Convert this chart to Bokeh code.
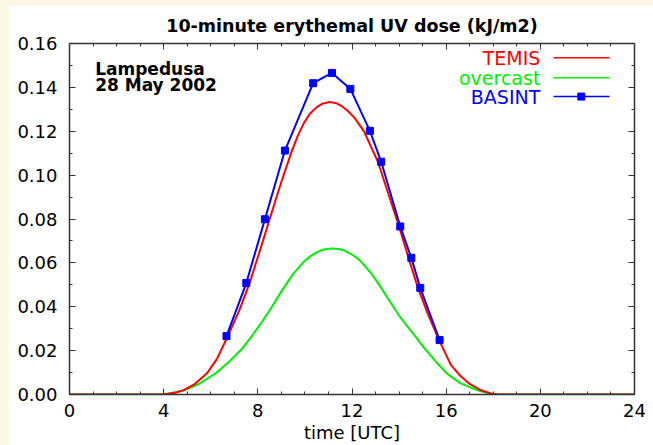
import re
from bokeh.plotting import figure
from bokeh.models import Range1d, LinearAxis, SingleIntervalTicker, Label, PrintfTickFormatter
from bokeh.embed import file_html
from bokeh.resources import INLINE

# ---- data ----
temis_time = [0, 4.0, 4.5, 4.85, 5.3, 5.85, 6.25, 6.7, 7.2, 7.65, 8.1, 8.5, 9.0, 9.45, 9.7,
              9.95, 10.2, 10.5, 10.75, 11.05, 11.35, 11.6, 11.85, 12.1, 12.5, 13.1, 13.55,
              14.0, 14.4, 14.8, 15.25, 15.7, 16.2, 16.6, 17.0, 17.5, 17.9, 18.2, 24]
temis_dose = [0, 0, 0.0008, 0.0020, 0.0046, 0.0098, 0.0160, 0.0260, 0.0380, 0.0508, 0.0660,
              0.0799, 0.0970, 0.1112, 0.1180, 0.1236, 0.1279, 0.1310, 0.1326, 0.1333, 0.1327,
              0.1312, 0.1290, 0.1262, 0.1202, 0.1061, 0.0913, 0.0766, 0.0623, 0.0486, 0.0360,
              0.0248, 0.0135, 0.0085, 0.0048, 0.0018, 0.0005, 0, 0]

overcast_time = [0, 4.0, 4.85, 5.5, 6.25, 6.8, 7.3, 7.7, 8.2, 8.6, 9.0, 9.5, 10.0, 10.25, 10.5,
                 10.8, 11.15, 11.45, 11.7, 12.0, 12.3, 12.8, 13.2, 13.6, 14.05, 14.6, 15.1,
                 15.6, 16.05, 16.6, 17.3, 17.8, 18.2, 24]
overcast_dose = [0, 0, 0.0018, 0.0048, 0.0100, 0.0152, 0.0205, 0.0260, 0.0335, 0.0400, 0.0470,
                 0.0550, 0.0610, 0.0632, 0.0648, 0.0661, 0.0666, 0.0663, 0.0655, 0.0638, 0.0615,
                 0.0555, 0.0493, 0.0425, 0.0352, 0.0278, 0.0208, 0.0145, 0.0094, 0.0052, 0.0020,
                 0.0005, 0, 0]

basint_time = [6.67, 7.51, 8.30, 9.15, 10.35, 11.15, 11.93, 12.76, 13.24, 14.05, 14.52, 14.90, 15.72]
basint_dose = [0.0266, 0.0508, 0.0799, 0.1112, 0.1419, 0.1466, 0.1393, 0.1202, 0.1061, 0.0766,
               0.0623, 0.0486, 0.0248]

series_names = ["TEMIS", "overcast", "BASINT"]
series_colors = ["#FF0000", "#00EE00", "#0000FF"]

FONT = "DejaVu Sans"

p = figure(width=645, height=440, x_range=Range1d(0, 24), y_range=Range1d(0, 0.16),
           output_backend="svg", toolbar_location=None,
           min_border_left=61, min_border_right=19, min_border_top=38, min_border_bottom=51,
           title="10-minute erythemal UV dose (kJ/m2)")
p.title.align = "center"
p.title.text_font = FONT
p.title.text_font_size = "17.5px"
p.title.text_font_style = "bold"
p.title.text_color = "black"
p.title.standoff = 16
p.background_fill_color = "white"
p.border_fill_color = "white"
p.outline_line_color = None
p.xgrid.visible = False
p.ygrid.visible = False

xtick = SingleIntervalTicker(interval=4, num_minor_ticks=4)
ytick = SingleIntervalTicker(interval=0.02, num_minor_ticks=2)


def style_axis(ax, show_labels):
    ax.axis_line_color = "#333333"
    ax.axis_line_width = 1.5
    ax.major_tick_in = 6
    ax.major_tick_out = 0
    ax.minor_tick_in = 3
    ax.minor_tick_out = 0
    ax.major_tick_line_color = "#333333"
    ax.minor_tick_line_color = "#333333"
    if show_labels:
        ax.major_label_text_font = FONT
        ax.major_label_text_font_size = "18px"
        ax.major_label_text_color = "black"
    else:
        ax.major_label_text_color = None
        ax.major_label_standoff = 0


p.xaxis.ticker = xtick
p.yaxis.ticker = ytick
p.yaxis.formatter = PrintfTickFormatter(format="%.2f")
style_axis(p.xaxis[0], True)
style_axis(p.yaxis[0], True)
p.yaxis.major_label_standoff = 12
p.xaxis.major_label_standoff = 9
p.xaxis.axis_label = "time [UTC]"
p.xaxis.axis_label_text_font = FONT
p.xaxis.axis_label_text_font_size = "18px"
p.xaxis.axis_label_text_font_style = "normal"
p.xaxis.axis_label_text_color = "black"
p.xaxis.axis_label_standoff = 2

top = LinearAxis(ticker=xtick)
style_axis(top, False)
p.add_layout(top, "above")
right = LinearAxis(ticker=ytick)
style_axis(right, False)
p.add_layout(right, "right")

# ---- curves ----
p.line(overcast_time, overcast_dose, line_color=series_colors[1], line_width=2, line_join="round")
p.line(temis_time, temis_dose, line_color=series_colors[0], line_width=2, line_join="round")
p.line(basint_time, basint_dose, line_color=series_colors[2], line_width=2)
p.scatter(basint_time, basint_dose, marker="square", size=7, color=series_colors[2])

# ---- annotation ----
for txt, yy in [("Lampedusa", 0.1482), ("28 May 2002", 0.1413)]:
    p.add_layout(Label(x=1.09, y=yy, text=txt, text_font=FONT, text_font_size="17px",
                       text_font_style="bold", text_color="black", text_baseline="alphabetic"))

# ---- legend (text on the left, sample on the right) ----
leg_y = [0.1535, 0.1444, 0.1358]
for name, col, yy in zip(series_names, series_colors, leg_y):
    p.add_layout(Label(x=20.0, y=yy, text=name, text_font=FONT, text_font_size="19px",
                       text_color=col, text_align="right", text_baseline="middle"))
    p.line([20.56, 22.94], [yy, yy], line_color=col, line_width=1.5)
p.scatter([21.74], [leg_y[2]], marker="square", size=7, color=series_colors[2])

html = file_html(p, INLINE)
style = "<style>html, body { margin: 0 !important; } body { background: #FDF5E6 !important; padding: 5px 0 0 8px !important; }</style>"
html = html.replace("</head>", style + "</head>", 1)
open("out.html", "w").write(html)
